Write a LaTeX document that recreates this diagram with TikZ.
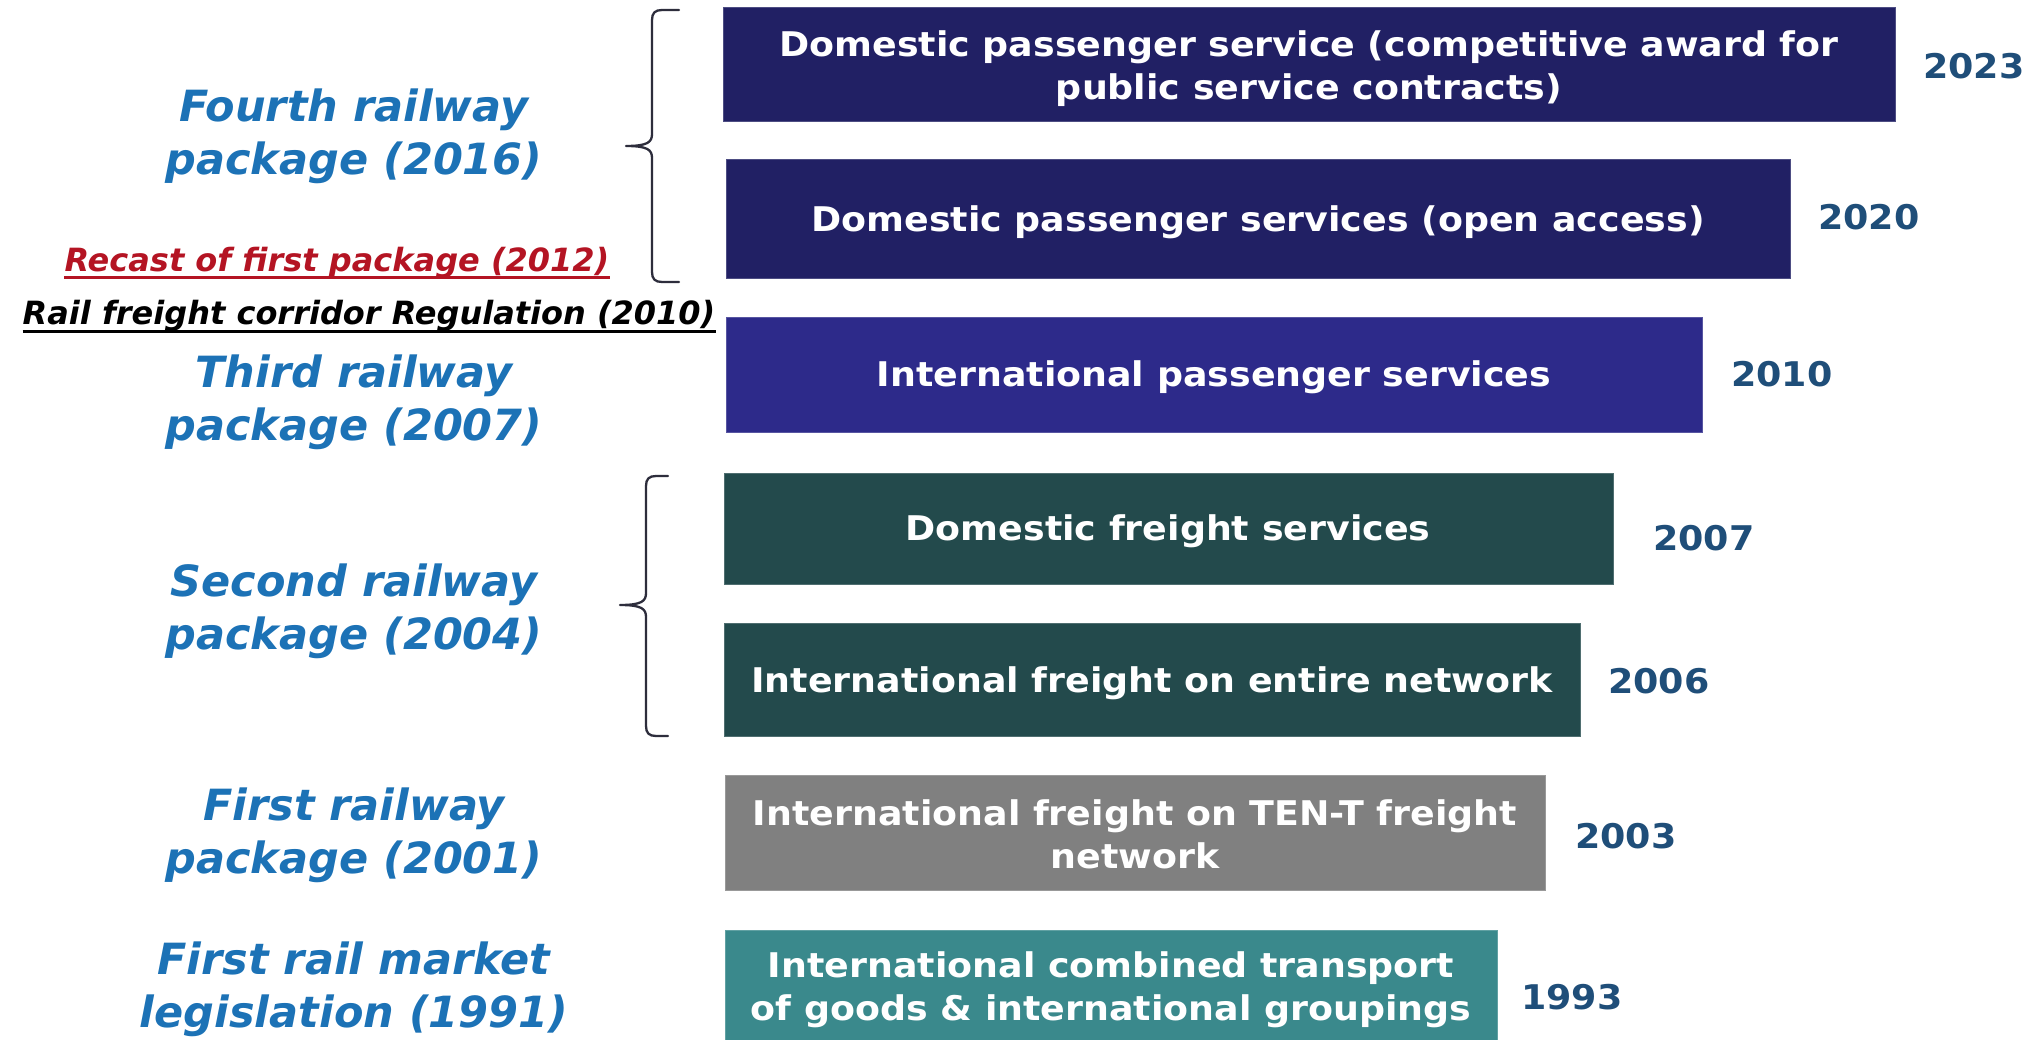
\documentclass[tikz,border=0pt]{standalone}
\usepackage{fontspec}
\setmainfont{DejaVu Sans}
\newfontfamily\barfont{DejaVu Sans}[FakeStretch=1.07]
\newfontfamily\labfont{DejaVu Sans}
\definecolor{navyA}{RGB}{33,32,100}
\definecolor{navyB}{RGB}{45,42,138}
\definecolor{tealD}{RGB}{35,74,76}
\definecolor{greyM}{RGB}{128,128,128}
\definecolor{tealL}{RGB}{58,137,140}
\definecolor{labblue}{RGB}{28,114,182}
\definecolor{yearblue}{RGB}{31,78,121}
\definecolor{recred}{RGB}{180,20,35}
\definecolor{bracec}{RGB}{45,45,60}
\begin{document}
\begin{tikzpicture}[x=1pt,y=-1pt,
  bar/.style={fill=#1, draw=#1!80!white, line width=1pt, inner sep=0pt, outer sep=0pt, anchor=north west},
  bartext/.style={text=white, font=\barfont\bfseries\fontsize{34}{43}\selectfont, inner sep=0pt, anchor=base},
  year/.style={text=yearblue, font=\barfont\bfseries\fontsize{34}{43}\selectfont, inner sep=0pt, anchor=base west},
  pkg/.style={text=labblue, font=\labfont\bfseries\itshape\fontsize{43}{52}\selectfont, inner sep=0pt, anchor=base},
  note/.style={font=\labfont\bfseries\itshape\fontsize{32}{40}\selectfont, inner sep=0pt, anchor=base},
  bracket/.style={draw=bracec, line width=2.3pt, line cap=round, line join=round}]
\fill[white] (0,0) rectangle (2032,1040);
\useasboundingbox (0,0) rectangle (2032,1040);

% bars
\node[bar=navyA, minimum width=1172pt, minimum height=114pt] (b1) at (723,8) {};
\node[bar=navyA, minimum width=1064pt, minimum height=119pt] (b2) at (726,160) {};
\node[bar=navyB, minimum width=976pt, minimum height=114pt] (b3) at (726,318) {};
\node[bar=tealD, minimum width=889pt, minimum height=111pt] (b4) at (724,473) {};
\node[bar=tealD, minimum width=856pt, minimum height=113pt] (b5) at (724,623) {};
\node[bar=greyM, minimum width=820pt, minimum height=115pt] (b6) at (725,775) {};
\node[bar=tealL, minimum width=772pt, minimum height=114pt] (b7) at (725,930) {};

% bar texts
\node[bartext] (t1a) at (1309,57) {Domestic passenger service (competitive award for};
\node[bartext] (t1b) at (1309,100) {public service contracts)};
\node[bartext] (t2) at (1258,232) {Domestic passenger services (open access)};
\node[bartext] (t3) at (1214,387) {International passenger services};
\node[bartext] (t4) at (1168,540) {Domestic freight services};
\node[bartext] (t5) at (1152,692) {International freight on entire network};
\node[bartext] (t6a) at (1135,825) {International freight on TEN-T freight};
\node[bartext] (t6b) at (1135,868) {network};
\node[bartext] (t7a) at (1111,977) {International combined transport};
\node[bartext] (t7b) at (1111,1020) {of goods \& international groupings};

% years
\node[year] (y1) at (1923,79) {2023};
\node[year] (y2) at (1818,230) {2020};
\node[year] (y3) at (1731,387) {2010};
\node[year] (y4) at (1653,550) {2007};
\node[year] (y5) at (1608,693) {2006};
\node[year] (y6) at (1575,848) {2003};
\node[year] (y7) at (1521,1009) {1993};

% package labels
\node[pkg] (p4a) at (354,122) {Fourth railway};
\node[pkg] (p4b) at (354,175) {package (2016)};
\node[pkg] (p3a) at (354,388) {Third railway};
\node[pkg] (p3b) at (354,440) {package (2007)};
\node[pkg] (p2a) at (354,596) {Second railway};
\node[pkg] (p2b) at (354,649) {package (2004)};
\node[pkg] (p1a) at (354,820) {First railway};
\node[pkg] (p1b) at (354,873) {package (2001)};
\node[pkg] (p0a) at (354,974) {First rail market};
\node[pkg] (p0b) at (354,1027) {legislation (1991)};

% underlined notes
\node[note, text=recred] (rec) at (337,272) {Recast of first package (2012)};
\draw[recred, line width=3pt] ([yshift=-6pt]rec.base west) -- ([yshift=-6pt]rec.base east);
\node[note, text=black] (rfc) at (369,325) {Rail freight corridor Regulation (2010)};
\draw[black, line width=3pt] ([yshift=-7pt]rfc.base west) -- ([yshift=-7pt]rfc.base east);

% braces
\draw[bracket] (679,10) -- (662,10) .. controls (655,10) and (652,13) .. (652,20)
  -- (652,134) .. controls (652,142) and (648,146) .. (626,146)
  .. controls (648,146) and (652,150) .. (652,158)
  -- (652,272) .. controls (652,279) and (655,282) .. (662,282) -- (679,282);
\draw[bracket] (668,476) -- (656,476) .. controls (649,476) and (646,479) .. (646,486)
  -- (646,593) .. controls (646,601) and (642,605) .. (620,605)
  .. controls (642,605) and (646,609) .. (646,617)
  -- (646,726) .. controls (646,733) and (649,736) .. (656,736) -- (668,736);
\end{tikzpicture}
\end{document}
